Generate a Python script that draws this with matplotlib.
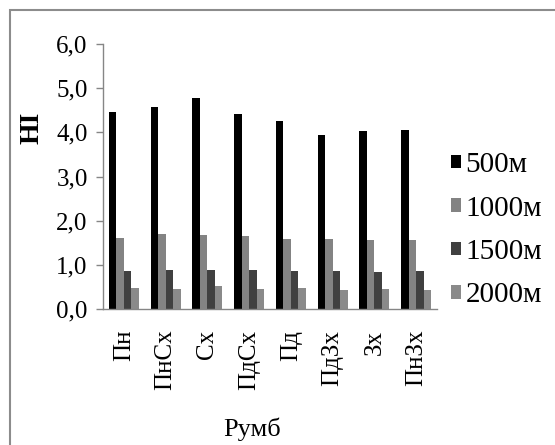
import numpy as np
import matplotlib as mpl
import matplotlib.pyplot as plt
from matplotlib.patches import Rectangle

mpl.use('Agg')

# Data
rumbs = ['Пн', 'ПнСх', 'Сх', 'ПдСх', 'Пд', 'ПдЗх', 'Зх', 'ПнЗх']
series_names = ['500м', '1000м', '1500м', '2000м']
hi_500 = [4.45, 4.58, 4.78, 4.41, 4.26, 3.94, 4.02, 4.05]
hi_1000 = [1.61, 1.69, 1.67, 1.65, 1.58, 1.58, 1.56, 1.57]
hi_1500 = [0.85, 0.89, 0.89, 0.89, 0.85, 0.85, 0.83, 0.85]
hi_2000 = [0.47, 0.45, 0.51, 0.45, 0.48, 0.42, 0.45, 0.42]
y_ticks = [0, 1, 2, 3, 4, 5, 6]

colors = ['#000000', '#838383', '#404040', '#8a8a8a']
series = [hi_500, hi_1000, hi_1500, hi_2000]

plt.rcParams['font.family'] = ['Liberation Serif', 'DejaVu Serif']

fig = plt.figure(figsize=(5.55, 4.45), dpi=100)
ax = fig.add_axes([103 / 555, 1 - 309 / 445, (437 - 103) / 555, (309 - 44) / 445])

x = np.arange(len(rumbs))
width = 0.18
offsets = [-1.5, -0.5, 0.5, 1.5]
for vals, name, col, off in zip(series, series_names, colors, offsets):
    ax.bar(x + off * width, vals, width, color=col, label=name, linewidth=0)

ax.set_xlim(-0.5, len(rumbs) - 0.5)
ax.set_ylim(0, 6)
ax.set_yticks(y_ticks)
ax.set_yticklabels([f'{v:.1f}'.replace('.', ',') for v in y_ticks], fontsize=18)
ax.set_xticks(x)
ax.set_xticklabels(rumbs, rotation=90, fontsize=18, va='top', ha='center')
ax.tick_params(axis='x', length=0, pad=15)
ax.tick_params(axis='y', length=5, width=1, color='#868686', pad=6)

for side in ['top', 'right']:
    ax.spines[side].set_visible(False)
for side in ['left', 'bottom']:
    ax.spines[side].set_color('#868686')
    ax.spines[side].set_linewidth(1)

# Axis titles
fig.text(32 / 555, 1 - 128 / 445, 'НІ', rotation=90, fontsize=20, fontweight='bold',
         ha='center', va='center')
fig.text(252 / 555, 1 - 429 / 445, 'Румб', fontsize=19, ha='center', va='center')

# Legend
fig.legend(loc='upper left', bbox_to_anchor=(451 / 555, 1 - 152 / 445), frameon=False,
           fontsize=21, handlelength=0.34, handleheight=0.34, handletextpad=0.15,
           labelspacing=0.6, borderpad=0, borderaxespad=0)

# Chart frame
fig.patches.append(Rectangle((10 / 555, -0.1), 1.2, 1 - 10 / 445 + 0.1,
                             transform=fig.transFigure, fill=False,
                             edgecolor='#8c8c8c', linewidth=1.5))

plt.savefig('out.png', dpi=100)
plt.close()
